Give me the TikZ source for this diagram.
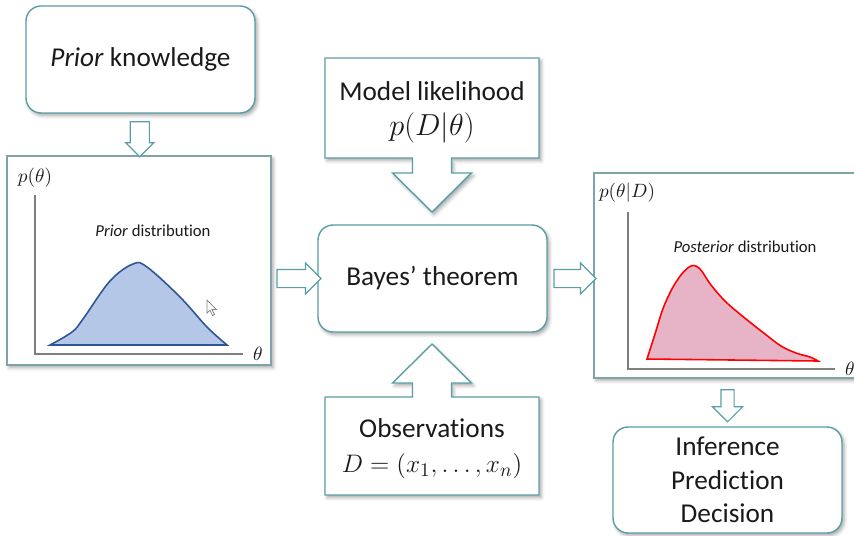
\documentclass[tikz,border=0pt]{standalone}
\usepackage{fontspec}
\setmainfont[Ligatures=NoCommon]{Carlito}
\usetikzlibrary{calc,shapes.arrows,shadows.blur}

\definecolor{boxteal}{HTML}{5A9EA6}
\definecolor{plotframe}{HTML}{7FA3A8}
\definecolor{priorfill}{HTML}{B4C7E7}
\definecolor{priorline}{HTML}{2F5597}
\definecolor{postfill}{HTML}{E6B4C6}
\definecolor{axisgray}{HTML}{7F7F7F}
\definecolor{txt}{HTML}{1A1A1A}

\tikzset{
  softshadow/.style={blur shadow={shadow xshift=1.2pt, shadow yshift=-1.5pt,
      shadow blur radius=2pt, shadow opacity=35}},
  roundbox/.style={draw=boxteal, line width=0.8pt, rounded corners=0.3cm,
      fill=white, softshadow, align=center, text=txt,
      font=\fontsize{15.5}{19}\selectfont},
  plotbox/.style={draw=plotframe, line width=0.9pt, fill=white, softshadow},
  callout/.style={draw=boxteal, line width=0.8pt, fill=white, softshadow},
  fatarrow/.style={single arrow, draw=boxteal, line width=0.7pt, fill=white,
      inner sep=0pt, minimum width=0pt},
  axis/.style={draw=axisgray, line width=0.8pt},
  smalllbl/.style={text=txt, font=\fontsize{9.5}{11}\selectfont},
  mathlbl/.style={text=txt, font=\fontsize{11}{13}\selectfont},
  bigtext/.style={text=txt, align=center, font=\fontsize{15.5}{19}\selectfont}
}

\begin{document}
\begin{tikzpicture}[x=0.02cm, y=-0.02cm]

\useasboundingbox (0,0) rectangle (854,535);
\clip (0,0) rectangle (854,535);

% ============================
% Main boxes
% ============================
\node[roundbox, minimum width=4.58cm, minimum height=2.14cm] (prior) at (140.5,59.5)
  {\textit{Prior} knowledge};
\node[roundbox, minimum width=4.58cm, minimum height=2.14cm] (bayes) at (432.5,278.5)
  {Bayes’ theorem};
\node[roundbox, minimum width=4.58cm, minimum height=2.12cm] (infer) at (727.5,480)
  {Inference\\Prediction\\Decision};

% Plot frames
\node[plotbox, minimum width=5.28cm, minimum height=4.18cm] (priorplot) at (139,260.5) {};
\node[plotbox, minimum width=5.72cm, minimum height=4.1cm] (postplot) at (737,275.5) {};

% ============================
% Callouts (box + block arrow)
% ============================
\coordinate (likc) at (432,108);
\draw[callout] (likc) ++(-107,-50) -- ++(214,0) -- ++(0,100) -- ++(-87.5,0)
  -- ++(0,15) -- ++(20,0) -- ++(-39.5,39) -- ++(-39.5,-39) -- ++(20,0)
  -- ++(0,-15) -- ++(-87.5,0) -- cycle;
\node[bigtext] (lik) at ($(likc)+(0,4)$)
  {Model likelihood\\[1pt]{\fontsize{16.5}{19}\selectfont$p(D|\theta)$}};

\coordinate (obsc) at (432,446);
\draw[callout] (obsc) ++(-107,-49) -- ++(87.5,0) -- ++(0,-14) -- ++(-20,0)
  -- ++(39.5,-39) -- ++(39.5,39) -- ++(-20,0) -- ++(0,14) -- ++(87.5,0)
  -- ++(0,98) -- ++(-214,0) -- cycle;
\node[bigtext] (obs) at ($(obsc)+(0,3)$)
  {Observations\\[1pt]$D=(x_1,\dots,x_n)$};

% ============================
% Block arrows between boxes
% ============================
\node[fatarrow, rotate=-90, minimum height=0.7cm, inner ysep=0.18cm,
      single arrow head extend=0.09cm] (a1)
  at ($(prior.south)!0.5!(priorplot.north)$) {};
\node[fatarrow, minimum height=0.88cm, inner ysep=0.17cm,
      single arrow head extend=0.13cm] (a2)
  at ($(priorplot.east |- bayes.west)!0.5!(bayes.west)$) {};
\node[fatarrow, minimum height=0.84cm, inner ysep=0.17cm,
      single arrow head extend=0.13cm] (a3)
  at ($(bayes.east)!0.5!(postplot.west |- bayes.east)$) {};
\node[fatarrow, rotate=-90, minimum height=0.64cm, inner ysep=0.12cm,
      single arrow head extend=0.17cm] (a4)
  at ($(postplot.south -| infer.north)!0.5!(infer.north)$) {};

% ============================
% Prior plot
% ============================
\draw[axis] (35,195) -- (35,354) -- (243,354);
\node[mathlbl] (pth) at (35,178) {$p(\theta)$};
\node[mathlbl] (thA) at (258,354) {$\theta$};
\node[smalllbl] (priorlbl) at (153,231) {\textit{Prior} distribution};

\filldraw[fill=priorfill, draw=priorline, line width=0.9pt]
  plot[smooth, tension=0.6] coordinates {(50,345) (72,332) (83,319) (110,281)
    (133,264) (147,267) (180,297) (207,327) (227,345)} -- cycle;

% mouse pointer
\filldraw[fill=white, draw=gray, line width=0.4pt]
  (207,300) -- (207,313) -- (210,310) -- (212.5,315.5) -- (214.5,314.5)
  -- (212,309.5) -- (216.5,309.5) -- cycle;

% ============================
% Posterior plot
% ============================
\draw[axis] (628,212) -- (628,369) -- (835,369);
\node[mathlbl] (pthD) at (627,193) {$p(\theta|D)$};
\node[mathlbl] (thB) at (850,369) {$\theta$};
\node[smalllbl] (postlbl) at (745,247) {\textit{Posterior} distribution};

\filldraw[fill=postfill, draw=red, line width=0.9pt]
  plot[smooth, tension=0.6] coordinates {(647,359) (655,334) (664,306) (676,282)
    (689,267) (699,268) (711,285) (726,302) (746,319) (765,334) (781,346)
    (796,353) (810,357) (818,361)} -- cycle;

\end{tikzpicture}
\end{document}
